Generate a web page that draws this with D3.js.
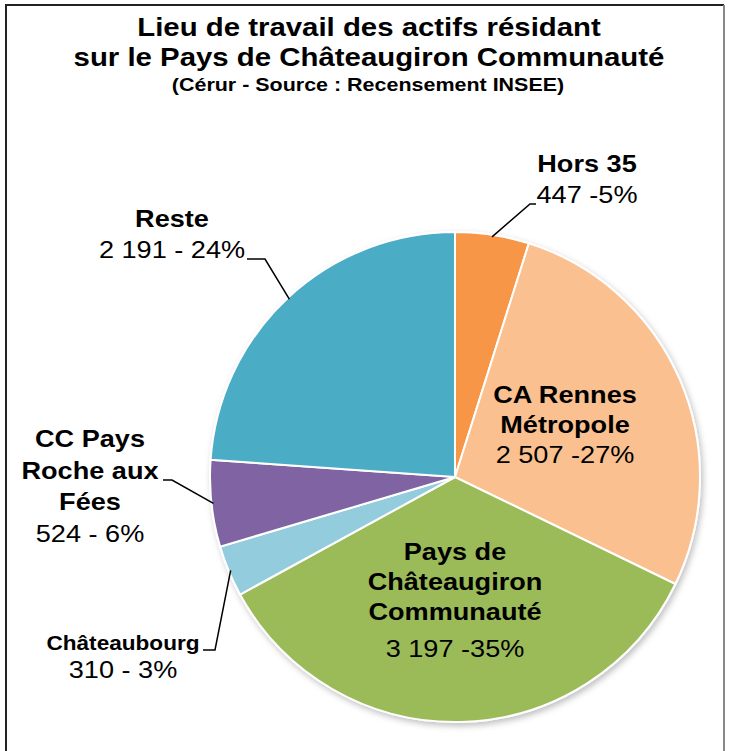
<!DOCTYPE html>
<html>
<head>
<meta charset="utf-8">
<script src="https://cdn.jsdelivr.net/npm/d3@7"></script>
<style>
  body { margin: 0; background: #fff; }
  text { font-family: "Liberation Sans", Arial, sans-serif; fill: #000; }
</style>
</head>
<body>
<script>
var width = 733,
    height = 751;

// Donnees
var zones = ["Hors 35", "CA Rennes Métropole", "Pays de Châteaugiron Communauté", "Châteaubourg", "CC Pays Roche aux Fées", "Reste"];
var actifs = [447, 2507, 3197, 310, 524, 2191];
var etiquettes = ["447 -5%", "2 507 -27%", "3 197 -35%", "310 - 3%", "524 - 6%", "2 191 - 24%"];
var couleurs = ["#F79646", "#FAC090", "#9BBB59", "#93CDDD", "#8064A2", "#4BACC6"];

// la police du modele est un peu plus large que Liberation Sans
var etire = 1.13;

var svg = d3.select("body")
    .append("svg")
    .attr("width", width)
    .attr("height", height);

// cadre (pas de bord en bas)
svg.append("path")
    .attr("d", "M6,751 V5 H724")
    .attr("fill", "none")
    .attr("stroke", "#222")
    .attr("stroke-width", 2);
svg.append("line").attr("x1", 724).attr("x2", 724).attr("y1", 5).attr("y2", 751)
    .attr("stroke", "#888").attr("stroke-width", 2);

function texte(parent, x, y, s, size, bold) {
    return parent.append("text")
        .attr("text-anchor", "middle")
        .attr("transform", "translate(" + x + "," + y + ") scale(" + etire + ",1)")
        .style("font-size", size + "px")
        .style("font-weight", bold ? "bold" : "normal")
        .text(s);
}

// titre
texte(svg, 369, 36, "Lieu de travail des actifs résidant", 26, true);
texte(svg, 369, 66, "sur le Pays de Châteaugiron Communauté", 26, true);
texte(svg, 368, 91, "(Cérur - Source : Recensement INSEE)", 19, true);

// ombre
var defs = svg.append("defs");
var f = defs.append("filter").attr("id", "ombre")
    .attr("x", "-10%").attr("y", "-10%").attr("width", "120%").attr("height", "120%");
f.append("feDropShadow").attr("dx", 2).attr("dy", 3).attr("stdDeviation", 3)
    .attr("flood-color", "#000").attr("flood-opacity", 0.25);

var cx = 455, cy = 477, r = 245;

var pie = d3.pie().sort(null).value(function (d) { return d; });
var arcs = pie(actifs);
var arc = d3.arc().innerRadius(0).outerRadius(r);

var g = svg.append("g").attr("transform", "translate(" + cx + "," + cy + ")");

g.append("g").attr("filter", "url(#ombre)")
    .selectAll("path")
    .data(arcs)
    .join("path")
    .attr("d", arc)
    .attr("fill", function (d, i) { return couleurs[i]; })
    .attr("stroke", "#fff")
    .attr("stroke-width", 2);

// position des etiquettes (relatif au centre) et lignes de rappel
var labels = [
    { lignes: ["Hors 35"], size: 24, x: 132, y: -305, pas: 30, val: 31, coude: [[75, -273], [81, -273]] },
    { lignes: ["CA Rennes", "Métropole"], size: 24, x: 110, y: -74, pas: 30, val: 30 },
    { lignes: ["Pays de", "Châteaugiron", "Communauté"], size: 24, x: 0, y: 83, pas: 30, val: 37 },
    { lignes: ["Châteaubourg"], size: 20, x: -332, y: 173, pas: 30, val: 28, coude: [[-240, 173], [-252, 173]] },
    { lignes: ["CC Pays", "Roche aux", "Fées"], size: 24, x: -365, y: -30, pas: 31.5, val: 32, coude: [[-283, 3], [-292, 3]] },
    { lignes: ["Reste"], size: 24, x: -283, y: -250, pas: 30, val: 31, coude: [[-190, -218], [-208, -218]] }
];

labels.forEach(function (l, i) {
    var t = g.append("g");
    l.lignes.forEach(function (s, k) {
        texte(t, l.x, l.y + k * l.pas, s, l.size, true);
    });
    var yv = l.y + (l.lignes.length - 1) * l.pas + l.val;
    texte(t, l.x, yv, etiquettes[i], 24, false);

    if (l.coude) {
        var a = (arcs[i].startAngle + arcs[i].endAngle) / 2;
        var p0 = [Math.sin(a) * (r - 2), -Math.cos(a) * (r - 2)];
        g.append("polyline")
            .attr("points", [p0, l.coude[0], l.coude[1]].map(function (p) { return p.join(","); }).join(" "))
            .attr("fill", "none")
            .attr("stroke", "#000")
            .attr("stroke-width", 1.5);
    }
});
</script>
</body>
</html>
